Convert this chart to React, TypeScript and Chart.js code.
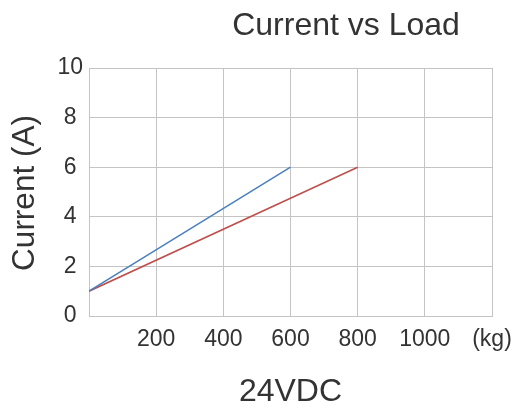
import React, { useEffect, useRef } from "react";
import { Chart, registerables } from "chart.js";

Chart.register(...registerables);

const blueLoad = [0, 600];
const blueCurrent = [1, 6];
const redLoad = [0, 800];
const redCurrent = [1, 6];
const xTicks = [0, 200, 400, 600, 800, 1000, 1200];
const xTickLabels = ["", "200", "400", "600", "800", "1000", "(kg)"];
const titleText = "Current vs Load";
const yTitleText = "Current (A)";
const xTitleText = "24VDC";

const FONT = "'Liberation Sans', Arial, sans-serif";
const TEXT = "#333333";
const GRID = "#c4c4c4";

export default function App() {
  const ref = useRef<HTMLCanvasElement | null>(null);
  useEffect(() => {
    if (!ref.current) return;
    const textPlugin = {
      id: "texts",
      afterDraw(chart: any) {
        const ctx = chart.ctx;
        const area = chart.chartArea;
        ctx.save();
        ctx.fillStyle = TEXT;
        ctx.textAlign = "center";
        ctx.textBaseline = "alphabetic";
        ctx.font = `32px ${FONT}`;
        ctx.fillText(titleText, 346, 35);
        ctx.font = `32px ${FONT}`;
        ctx.fillText(xTitleText, (area.left + area.right) / 2, 401);
        ctx.translate(34, 193);
        ctx.rotate(-Math.PI / 2);
        ctx.font = `31.5px ${FONT}`;
        ctx.fillText(yTitleText, 0, 0);
        ctx.restore();
      },
    };
    const chart = new Chart(ref.current, {
      type: "scatter",
      data: {
        datasets: [
          {
            data: blueLoad.map((x, i) => ({ x, y: blueCurrent[i] })),
            showLine: true,
            borderColor: "#4a7fbf",
            borderWidth: 1.5,
            pointRadius: 0,
          },
          {
            data: redLoad.map((x, i) => ({ x, y: redCurrent[i] })),
            showLine: true,
            borderColor: "#bf4f4c",
            borderWidth: 1.5,
            pointRadius: 0,
          },
        ],
      },
      options: {
        animation: false,
        responsive: false,
        layout: { padding: { left: 0, right: 21, top: 68, bottom: 0 } },
        plugins: { legend: { display: false }, tooltip: { enabled: false }, title: { display: false } },
        scales: {
          x: {
            type: "linear",
            min: 0,
            max: 1200,
            afterBuildTicks: (scale: any) => {
              scale.ticks = xTicks.map((v) => ({ value: v }));
            },
            afterFit: (scale: any) => {
              scale.height = 94;
              scale.paddingLeft = 0;
              scale.paddingRight = 0;
            },
            ticks: {
              autoSkip: false,
              maxRotation: 0,
              padding: 10,
              color: TEXT,
              font: { family: FONT, size: 23 },
              callback: (v: any) => {
                const i = xTicks.indexOf(Number(v));
                return i >= 0 ? xTickLabels[i] : "";
              },
            },
            grid: { color: GRID, lineWidth: 1, drawTicks: false },
            border: { color: GRID, width: 1 },
          },
          y: {
            min: 0,
            max: 10,
            ticks: {
              stepSize: 2,
              padding: 6,
              crossAlign: "center",
              color: TEXT,
              font: { family: FONT, size: 23 },
            },
            afterFit: (scale: any) => {
              scale.width = 89;
              scale.paddingTop = 0;
              scale.paddingBottom = 0;
            },
            grid: { color: GRID, lineWidth: 1, drawTicks: false },
            border: { color: GRID, width: 1 },
          },
        },
      },
      plugins: [textPlugin],
    });
    return () => chart.destroy();
  }, []);
  return (
    <div style={{ position: "fixed", left: 0, top: 0, width: 513, height: 410, background: "#fff" }}>
      <canvas ref={ref} width={513} height={410} style={{ width: 513, height: 410 }} />
    </div>
  );
}
